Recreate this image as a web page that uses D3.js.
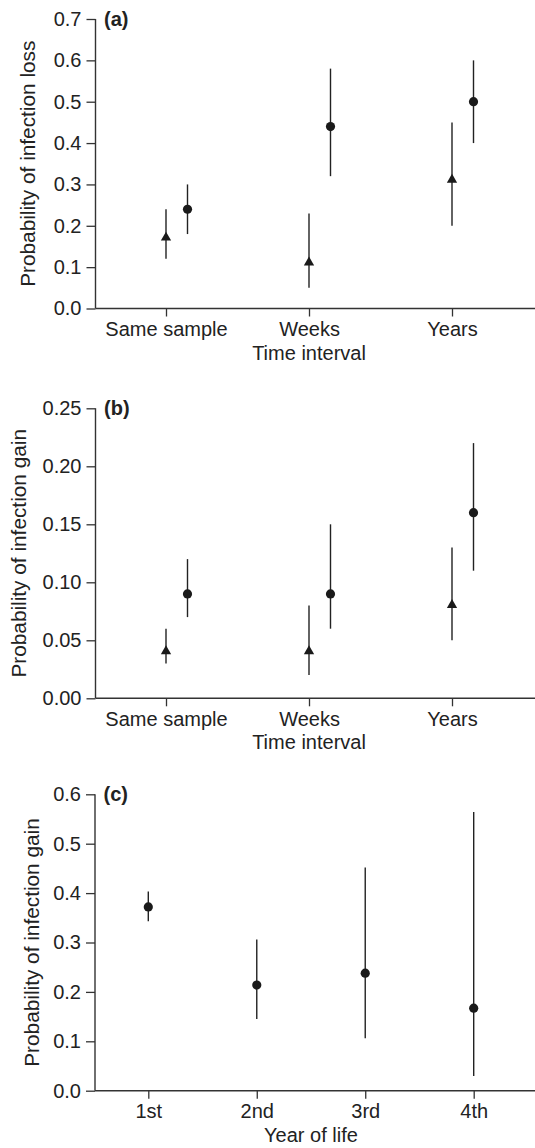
<!DOCTYPE html>
<html>
<head>
<meta charset="utf-8">
<script src="https://cdn.jsdelivr.net/npm/d3@7/dist/d3.min.js"></script>
<style>
  html, body { margin: 0; padding: 0; background: #fff; }
  svg { display: block; font-family: "Liberation Sans", Arial, Helvetica, sans-serif; }
</style>
</head>
<body>
<svg id="chart" width="535" height="1148"></svg>
<script>
// ---- data ----
const intervalCategories = ["Same sample", "Weeks", "Years"];
const yearCategories = ["1st", "2nd", "3rd", "4th"];

// (a) probability of infection loss
const lossTriangle     = [0.17, 0.11, 0.31];
const lossTriangleLow  = [0.12, 0.05, 0.20];
const lossTriangleHigh = [0.24, 0.23, 0.45];
const lossCircle       = [0.24, 0.44, 0.50];
const lossCircleLow    = [0.18, 0.32, 0.40];
const lossCircleHigh   = [0.30, 0.58, 0.60];

// (b) probability of infection gain by interval
const gainTriangle     = [0.04, 0.04, 0.08];
const gainTriangleLow  = [0.03, 0.02, 0.05];
const gainTriangleHigh = [0.06, 0.08, 0.13];
const gainCircle       = [0.09, 0.09, 0.16];
const gainCircleLow    = [0.07, 0.06, 0.11];
const gainCircleHigh   = [0.12, 0.15, 0.22];

// (c) probability of infection gain by year of life
const yearGain     = [0.372, 0.214, 0.238, 0.167];
const yearGainLow  = [0.343, 0.145, 0.106, 0.030];
const yearGainHigh = [0.403, 0.306, 0.452, 0.564];

const ticksA = [0, 0.1, 0.2, 0.3, 0.4, 0.5, 0.6, 0.7];
const ticksB = [0, 0.05, 0.10, 0.15, 0.20, 0.25];
const ticksC = [0, 0.1, 0.2, 0.3, 0.4, 0.5, 0.6];

// ---- drawing ----
const svg = d3.select("#chart");
const INK = "#222";
const AXIS = "#333";
const FONT = 20;

function zip(cats, v, lo, hi) {
  return cats.map((c, i) => ({ cat: c, v: v[i], lo: lo[i], hi: hi[i] }));
}

function drawPanel(o) {
  const g = svg.append("g");
  const y = d3.scaleLinear().domain(o.domain).range([o.bottom, o.top]);
  const x = d3.scalePoint().domain(o.categories).range(o.xRange);

  // y axis
  const yAxis = d3.axisLeft(y).tickValues(o.ticks).tickFormat(d3.format(o.fmt))
    .tickSize(9).tickPadding(5).tickSizeOuter(0);
  const ya = g.append("g").attr("transform", `translate(${o.axisX},0)`).call(yAxis);
  ya.select(".domain").remove();
  ya.append("line").attr("x1", 0).attr("x2", 0).attr("y1", o.top).attr("y2", o.bottom)
    .attr("stroke", AXIS).attr("stroke-width", 1.4);

  // x axis
  const xAxis = d3.axisBottom(x).tickSize(8).tickPadding(5.5).tickSizeOuter(0);
  const xa = g.append("g").attr("transform", `translate(0,${o.bottom})`).call(xAxis);
  xa.select(".domain").remove();
  xa.append("line").attr("x1", o.axisX).attr("x2", 535).attr("y1", 0).attr("y2", 0)
    .attr("stroke", AXIS).attr("stroke-width", 1.4);

  [ya, xa].forEach(a => {
    a.selectAll(".tick line").attr("stroke", AXIS).attr("stroke-width", 1.3);
    a.selectAll(".tick text").attr("fill", INK).style("font-size", FONT + "px")
      .style("font-family", '"Liberation Sans", Arial, sans-serif');
  });

  // panel letter
  g.append("text").attr("x", o.axisX + 8.5).attr("y", o.top + 6.5)
    .attr("fill", INK).style("font-size", FONT + "px").style("font-weight", "bold")
    .text(o.letter);

  // axis titles
  g.append("text")
    .attr("transform", `translate(${o.titleX},${(o.top + o.bottom) / 2}) rotate(-90)`)
    .attr("text-anchor", "middle").attr("fill", INK).style("font-size", (FONT + 0.8) + "px")
    .text(o.yTitle);
  g.append("text").attr("x", o.xTitleX).attr("y", o.bottom + 51)
    .attr("text-anchor", "middle").attr("fill", INK).style("font-size", FONT + "px")
    .text(o.xTitle);

  // series
  o.series.forEach(s => {
    const sg = g.append("g");
    sg.selectAll("line.err").data(s.data).join("line").attr("class", "err")
      .attr("x1", d => x(d.cat) + s.dx).attr("x2", d => x(d.cat) + s.dx)
      .attr("y1", d => y(d.lo)).attr("y2", d => y(d.hi))
      .attr("stroke", INK).attr("stroke-width", 1.4);
    if (s.shape === "circle") {
      sg.selectAll("circle").data(s.data).join("circle")
        .attr("cx", d => x(d.cat) + s.dx).attr("cy", d => y(d.v))
        .attr("r", 4.6).attr("fill", "#1a1a1a");
    } else {
      const tri = d3.symbol().type(d3.symbolTriangle).size(46);
      sg.selectAll("path").data(s.data).join("path")
        .attr("d", tri)
        .attr("transform", d => `translate(${x(d.cat) + s.dx},${y(d.v) - 0.6})`)
        .attr("fill", "#1a1a1a");
    }
  });
}

drawPanel({
  letter: "(a)", top: 19, bottom: 308.5, axisX: 95.5, domain: [0, 0.7],
  ticks: ticksA, fmt: ".1f", categories: intervalCategories, xRange: [166, 452],
  titleX: 35, yTitle: "Probability of infection loss",
  xTitle: "Time interval", xTitleX: 309,
  series: [
    { shape: "triangle", dx: 0, data: zip(intervalCategories, lossTriangle, lossTriangleLow, lossTriangleHigh) },
    { shape: "circle", dx: 21.5, data: zip(intervalCategories, lossCircle, lossCircleLow, lossCircleHigh) }
  ]
});

drawPanel({
  letter: "(b)", top: 408.3, bottom: 698.3, axisX: 95.5, domain: [0, 0.25],
  ticks: ticksB, fmt: ".2f", categories: intervalCategories, xRange: [166, 452],
  titleX: 26, yTitle: "Probability of infection gain",
  xTitle: "Time interval", xTitleX: 309,
  series: [
    { shape: "triangle", dx: 0, data: zip(intervalCategories, gainTriangle, gainTriangleLow, gainTriangleHigh) },
    { shape: "circle", dx: 21.5, data: zip(intervalCategories, gainCircle, gainCircleLow, gainCircleHigh) }
  ]
});

drawPanel({
  letter: "(c)", top: 794.3, bottom: 1090.7, axisX: 95, domain: [0, 0.6],
  ticks: ticksC, fmt: ".1f", categories: yearCategories, xRange: [148.3, 473.7],
  titleX: 39, yTitle: "Probability of infection gain",
  xTitle: "Year of life", xTitleX: 311,
  series: [
    { shape: "circle", dx: 0, data: zip(yearCategories, yearGain, yearGainLow, yearGainHigh) }
  ]
});
</script>
</body>
</html>
